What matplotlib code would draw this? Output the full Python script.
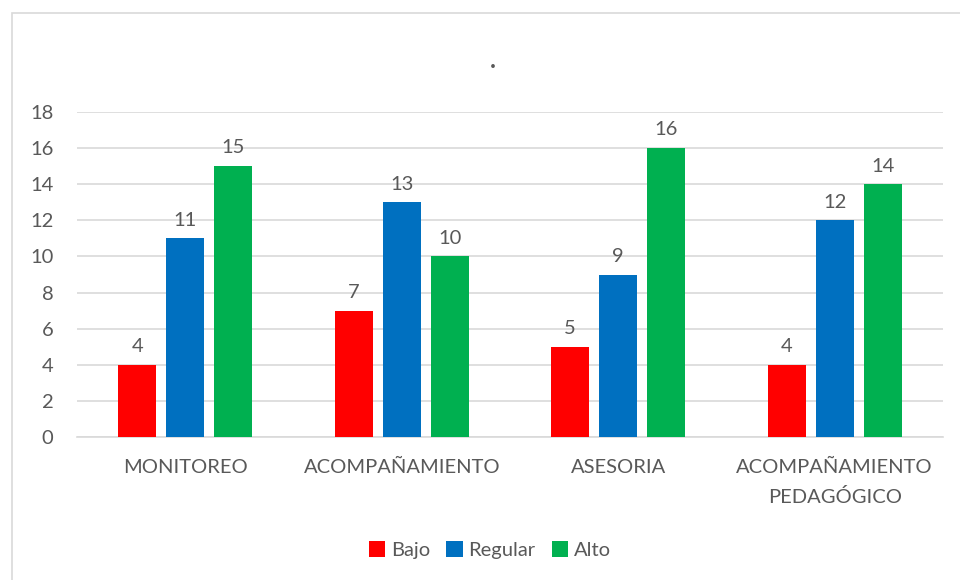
import numpy as np
import matplotlib.pyplot as plt
from matplotlib.patches import Rectangle

categorias = ["MONITOREO", "ACOMPAÑAMIENTO", "ASESORIA", "ACOMPAÑAMIENTO\nPEDAGÓGICO"]
series = ["Bajo", "Regular", "Alto"]
bajo = [4, 7, 5, 4]
regular = [11, 13, 9, 12]
alto = [15, 10, 16, 14]
colores = ["#FF0000", "#0070C0", "#00B050"]

plt.rcParams['font.family'] = ['Lato', 'DejaVu Sans']
gris = "#595959"

fig = plt.figure(figsize=(9.6, 5.8), dpi=100)
fig.patches.append(Rectangle((12/960, -0.05), 1.0, 1 - 13/580 + 0.05, transform=fig.transFigure,
                             fill=False, edgecolor="#D9D9D9", linewidth=1.2))
ax = fig.add_axes([77/960, 1 - 437/580, 866/960, 325/580])

x = np.arange(len(categorias))
ancho = 0.175
paso = 0.222
for i, (nombre, valores) in enumerate(zip(series, [bajo, regular, alto])):
    pos = x + (i - 1) * paso
    barras = ax.bar(pos, valores, ancho, color=colores[i], label=nombre, zorder=3)
    for b, v in zip(barras, valores):
        ax.annotate(str(v), (b.get_x() + b.get_width() / 2, v), xytext=(0, 7),
                    textcoords="offset points", ha="center", va="bottom",
                    fontsize=14.5, color=gris)

ax.set_xlim(-0.5, len(categorias) - 0.5)
ax.set_ylim(0, 18)
ax.set_yticks(range(0, 19, 2))
ax.set_xticks(x)
ax.set_xticklabels(categorias, linespacing=1.75)
ax.tick_params(axis="both", length=0, labelsize=14.5, labelcolor=gris)
ax.tick_params(axis="x", pad=16)
ax.tick_params(axis="y", pad=17)
ax.grid(axis="y", color="#D9D9D9", linewidth=1.2, zorder=0)
for s in ["top", "right", "left"]:
    ax.spines[s].set_visible(False)
ax.spines["bottom"].set_color("#D9D9D9")
ax.spines["bottom"].set_linewidth(1.2)

fig.text(493/960, 1 - 60/580, ".", ha="center", va="center", fontsize=18,
         fontweight="bold", color=gris)

fig.legend(loc="center", bbox_to_anchor=(490/960, 1 - 550/580), ncol=3, frameon=False,
           fontsize=14.5, labelcolor=gris, handlelength=0.8, handleheight=0.8,
           handletextpad=0.3, columnspacing=0.8)

fig.savefig("out.png", dpi=100)
